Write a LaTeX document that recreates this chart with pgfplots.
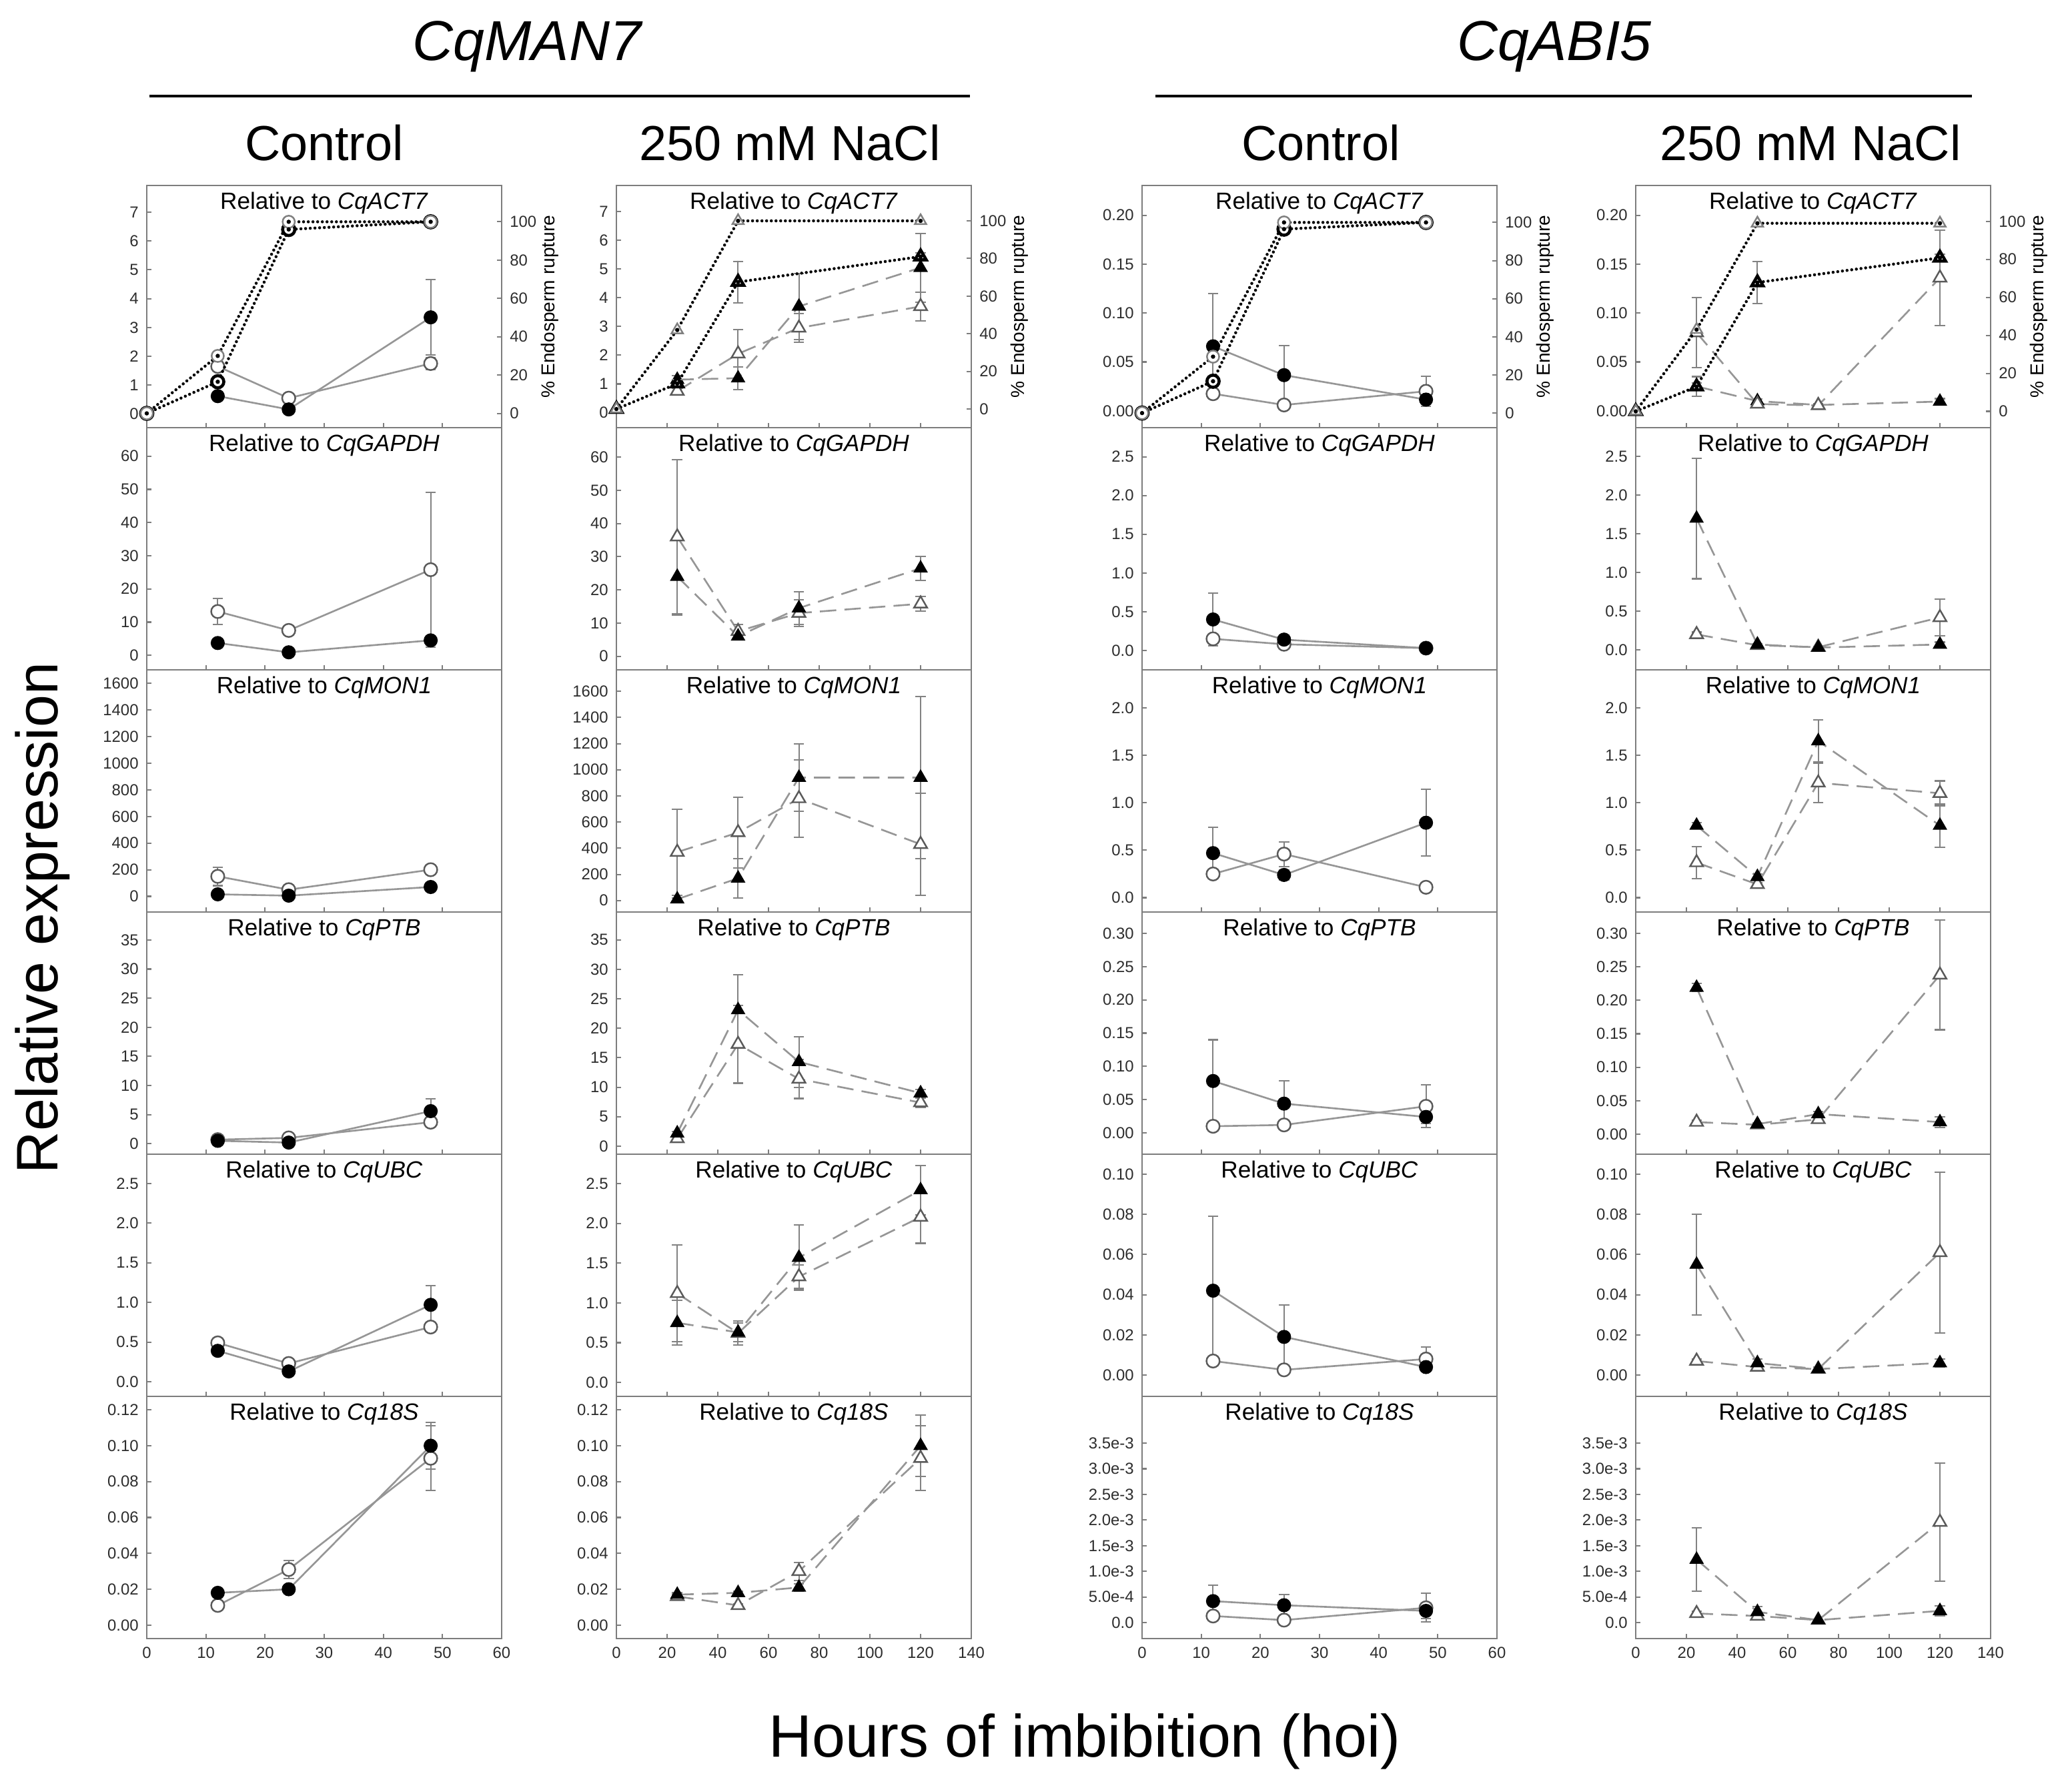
\documentclass[border=0pt]{standalone}
\usepackage{pgfplots}
\pgfplotsset{compat=1.18}
\usepackage{fontspec}
\setmainfont{Liberation Sans}
\definecolor{axgray}{RGB}{125,125,125}
\definecolor{lngray}{RGB}{150,150,150}
\definecolor{errgray}{RGB}{130,130,130}
\definecolor{mkgray}{RGB}{90,90,90}
\definecolor{tkgray}{RGB}{45,45,45}
\tikzset{
 rtitle/.style={font=\fontsize{10}{12}\selectfont, anchor=north, inner sep=0pt},
 rlab/.style={rotate=90, anchor=north, inner sep=0pt, font=\fontsize{8}{10}\selectfont},
}
\pgfplotsset{
 panel/.style={scale only axis, width=5.32cm, height=3.63cm, anchor=south west,
   axis line style={axgray, line width=0.8pt},
   tick style={axgray, line width=0.6pt},
   major tick length=0.07cm, tick align=inside,
   xtick pos=left, ytick pos=left,
   ticklabel style={font=\fontsize{6.8}{8}\selectfont, text=tkgray},
   /pgf/number format/assume math mode=true,
   /pgf/number format/1000 sep={},
   scaled y ticks=false, scaled x ticks=false, clip=false},
 c60/.style={xmin=0, xmax=60, xtick={0,10,20,30,40,50,60}},
 c140/.style={xmin=0, xmax=140, xtick={0,20,40,60,80,100,120,140}},
 nox/.style={xticklabels={,,,,,,,,,}},
 p1/.style={yticklabel style={/pgf/number format/fixed, /pgf/number format/fixed zerofill, /pgf/number format/precision=1}},
 p2/.style={yticklabel style={/pgf/number format/fixed, /pgf/number format/fixed zerofill, /pgf/number format/precision=2}},
 errs/.style={error bars/y dir=both, error bars/y explicit,
   error bars/error bar style={errgray, line width=0.6pt, solid},
   error bars/error mark options={rotate=90, errgray, mark size=2.2pt, line width=0.6pt, solid}},
 ctlF/.style={lngray, line width=0.75pt, mark=*, mark size=2.8pt, mark options={solid, fill=black, draw=black, line width=0.4pt}, errs},
 ctlO/.style={lngray, line width=0.75pt, mark=*, mark size=2.8pt, mark options={solid, fill=white, draw=mkgray, line width=0.7pt}, errs},
 salF/.style={lngray, line width=0.75pt, dash pattern=on 7pt off 3.5pt, mark=triangle*, mark size=3.2pt, mark options={solid, fill=black, draw=black, line width=0.4pt}, errs},
 salO/.style={lngray, line width=0.75pt, dash pattern=on 7pt off 3.5pt, mark=triangle*, mark size=3.2pt, mark options={solid, fill=white, draw=mkgray, line width=0.7pt}, errs},
 endoline/.style={black, line width=1.3pt, line cap=round, dash pattern=on 0pt off 2pt},
 endoAc/.style={endoline, mark=*, mark size=2.6pt, mark options={solid, fill=white, draw=black!50, line width=0.7pt}},
 endoBc/.style={endoline, mark=*, mark size=2.6pt, mark options={solid, fill=white, draw=black, line width=1.3pt}},
 endoAt/.style={endoline, mark=triangle*, mark size=2.8pt, mark options={solid, fill=white, draw=black!50, line width=0.7pt}},
 endoBt/.style={endoline, mark=triangle*, mark size=2.8pt, mark options={solid, fill=white, draw=black, line width=1.3pt}, errs},
 dots/.style={only marks, mark=*, mark size=0.7pt, black},
}
\begin{document}
\begin{tikzpicture}
\useasboundingbox (0,0) rectangle (31.06,-26.68);
% headers
\node[font=\fontsize{24}{28}\selectfont\itshape] at (7.90,-0.70) {CqMAN7};
\node[font=\fontsize{24}{28}\selectfont\itshape] at (23.30,-0.70) {CqABI5};
\draw[line width=1.1pt] (2.24,-1.44) -- (14.54,-1.44);
\draw[line width=1.1pt] (17.32,-1.44) -- (29.56,-1.44);
\node[font=\fontsize{21}{25}\selectfont] at (4.86,-2.14) {Control};
\node[font=\fontsize{21}{25}\selectfont] at (11.84,-2.14) {250 mM NaCl};
\node[font=\fontsize{21}{25}\selectfont] at (19.80,-2.14) {Control};
\node[font=\fontsize{21}{25}\selectfont] at (27.14,-2.14) {250 mM NaCl};
\node[font=\fontsize{25}{30}\selectfont, rotate=90] at (0.64,-13.76) {Relative expression};
\node[font=\fontsize{25.5}{30}\selectfont] at (16.26,-26.10) {Hours of imbibition (hoi)};

% ================= COLUMN 1 (Control, CqMAN7) =================
\begin{axis}[panel,c60,nox,at={(2.20cm,-6.41cm)},ymin=-0.472,ymax=7.92,ytick={0,1,2,3,4,5,6,7}]
\addplot[ctlO] coordinates {(12,1.65) +- (0,0.12) (24,0.55) +- (0,0.05) (48,1.75) +- (0,0.2)};
\addplot[ctlF] coordinates {(12,0.62) +- (0,0.1) (24,0.16) +- (0,0.05) (48,3.35) +- (0,1.3)};
\node[rtitle] at (rel axis cs:0.5,0.975) {Relative to \textit{CqACT7}};
\end{axis}
\begin{axis}[panel,c60,xtick=\empty,at={(2.20cm,-6.41cm)},ymin=-7.46,ymax=118.96,ytick={0,20,40,60,80,100},ytick pos=right,yticklabel pos=right]
\addplot[endoBc] coordinates {(0,0) (12,16.5) (24,96) (48,100)};
\addplot[endoAc] coordinates {(0,0) (12,30) (24,100) (48,100)};
\addplot[dots] coordinates {(0,0) (12,16.5) (24,96) (48,100) (12,30) (24,100)};
\node[rlab] at (rel axis cs:1.109,0.5) {\% Endosperm rupture};
\end{axis}

\begin{axis}[panel,c60,nox,at={(2.20cm,-10.04cm)},ymin=-4.38,ymax=68.6,ytick={0,10,20,30,40,50,60}]
\addplot[ctlO] coordinates {(12,13.2) +- (0,3.9) (24,7.5) +- (0,0.8) (48,25.8) +- (0,23.3)};
\addplot[ctlF] coordinates {(12,3.7) +- (0,0.5) (24,0.9) +- (0,0.3) (48,4.5) +- (0,0.8)};
\node[rtitle] at (rel axis cs:0.5,0.975) {Relative to \textit{CqGAPDH}};
\end{axis}

\begin{axis}[panel,c60,nox,at={(2.20cm,-13.67cm)},ymin=-118,ymax=1702,ytick={0,200,400,600,800,1000,1200,1400,1600}]
\addplot[ctlO] coordinates {(12,150) +- (0,70) (24,50) +- (0,10) (48,200) +- (0,20)};
\addplot[ctlF] coordinates {(12,15) +- (0,10) (24,5) +- (0,5) (48,70) +- (0,15)};
\node[rtitle] at (rel axis cs:0.5,0.975) {Relative to \textit{CqMON1}};
\end{axis}

\begin{axis}[panel,c60,nox,at={(2.20cm,-17.30cm)},ymin=-1.8,ymax=39.8,ytick={0,5,10,15,20,25,30,35}]
\addplot[ctlO] coordinates {(12,0.7) +- (0,0.2) (24,1.0) +- (0,0.2) (48,3.7) +- (0,0.5)};
\addplot[ctlF] coordinates {(12,0.5) +- (0,0.1) (24,0.2) +- (0,0.1) (48,5.6) +- (0,2.1)};
\node[rtitle] at (rel axis cs:0.5,0.975) {Relative to \textit{CqPTB}};
\end{axis}

\begin{axis}[panel,c60,nox,p1,at={(2.20cm,-20.93cm)},ymin=-0.185,ymax=2.87,ytick={0,0.5,1,1.5,2,2.5}]
\addplot[ctlO] coordinates {(12,0.49) +- (0,0.03) (24,0.23) +- (0,0.02) (48,0.69) +- (0,0.05)};
\addplot[ctlF] coordinates {(12,0.39) +- (0,0.03) (24,0.13) +- (0,0.02) (48,0.97) +- (0,0.24)};
\node[rtitle] at (rel axis cs:0.5,0.975) {Relative to \textit{CqUBC}};
\end{axis}

\begin{axis}[panel,c60,p2,at={(2.20cm,-24.56cm)},ymin=-0.0075,ymax=0.1275,ytick={0,0.02,0.04,0.06,0.08,0.1,0.12}]
\addplot[ctlO] coordinates {(12,0.011) +- (0,0.001) (24,0.031) +- (0,0.005) (48,0.093) +- (0,0.018)};
\addplot[ctlF] coordinates {(12,0.018) +- (0,0.001) (24,0.020) +- (0,0.002) (48,0.100) +- (0,0.013)};
\node[rtitle] at (rel axis cs:0.5,0.975) {Relative to \textit{Cq18S}};
\end{axis}

% ================= COLUMN 2 (NaCl, CqMAN7) =================
\begin{axis}[panel,c140,nox,at={(9.24cm,-6.41cm)},ymin=-0.523,ymax=7.914,ytick={0,1,2,3,4,5,6,7}]
\addplot[salO] coordinates {(24,0.75) +- (0,0.1) (48,2.05) +- (0,0.85) (72,2.95) +- (0,0.5) (120,3.7) +- (0,0.5)};
\addplot[salF] coordinates {(24,1.15) +- (0,0.15) (48,1.2) +- (0,0.4) (72,3.7) +- (0,1.15) (120,5.05) +- (0,1.2)};
\node[rtitle] at (rel axis cs:0.5,0.975) {Relative to \textit{CqACT7}};
\end{axis}
\begin{axis}[panel,c140,xtick=\empty,at={(9.24cm,-6.41cm)},ymin=-9.9,ymax=118.8,ytick={0,20,40,60,80,100},ytick pos=right,yticklabel pos=right]
\addplot[endoBt] coordinates {(0,0) +- (0,0) (24,13.5) +- (0,2) (48,67.5) +- (0,11) (120,81) +- (0,2)};
\addplot[endoAt] coordinates {(0,0) (24,42) (48,100) (120,100)};
\addplot[dots] coordinates {(0,0) (24,13.5) (48,67.5) (120,81) (24,42) (48,100) (120,100)};
\node[rlab] at (rel axis cs:1.109,0.5) {\% Endosperm rupture};
\end{axis}

\begin{axis}[panel,c140,nox,at={(9.24cm,-10.04cm)},ymin=-4.11,ymax=68.9,ytick={0,10,20,30,40,50,60}]
\addplot[salO] coordinates {(24,36) +- (0,23.2) (48,7.5) +- (0,2) (72,13) +- (0,4) (120,15.8) +- (0,2.2)};
\addplot[salF] coordinates {(24,24) +- (0,11.6) (48,6) +- (0,0.6) (72,14.5) +- (0,5) (120,26.5) +- (0,3.6)};
\node[rtitle] at (rel axis cs:0.5,0.975) {Relative to \textit{CqGAPDH}};
\end{axis}

\begin{axis}[panel,c140,nox,at={(9.24cm,-13.67cm)},ymin=-88,ymax=1764,ytick={0,200,400,600,800,1000,1200,1400,1600}]
\addplot[salO] coordinates {(24,370) +- (0,330) (48,520) +- (0,270) (72,780) +- (0,295) (120,430) +- (0,390)};
\addplot[salF] coordinates {(24,10) +- (0,10) (48,170) +- (0,150) (72,940) +- (0,258) (120,940) +- (0,620)};
\node[rtitle] at (rel axis cs:0.5,0.975) {Relative to \textit{CqMON1}};
\end{axis}

\begin{axis}[panel,c140,nox,at={(9.24cm,-17.30cm)},ymin=-1.35,ymax=39.7,ytick={0,5,10,15,20,25,30,35}]
\addplot[salO] coordinates {(24,1.3) +- (0,0.3) (48,17.3) +- (0,6.6) (72,11.4) +- (0,3.3) (120,7.4) +- (0,0.8)};
\addplot[salF] coordinates {(24,2.2) +- (0,0.3) (48,23.1) +- (0,6.0) (72,14.3) +- (0,4.3) (120,9.0) +- (0,0.6)};
\node[rtitle] at (rel axis cs:0.5,0.975) {Relative to \textit{CqPTB}};
\end{axis}

\begin{axis}[panel,c140,nox,p1,at={(9.24cm,-20.93cm)},ymin=-0.175,ymax=2.87,ytick={0,0.5,1,1.5,2,2.5}]
\addplot[salO] coordinates {(24,1.12) +- (0,0.61) (48,0.62) +- (0,0.15) (72,1.33) +- (0,0.15) (120,2.08) +- (0,0.33)};
\addplot[salF] coordinates {(24,0.75) +- (0,0.28) (48,0.63) +- (0,0.12) (72,1.57) +- (0,0.41) (120,2.42) +- (0,0.31)};
\node[rtitle] at (rel axis cs:0.5,0.975) {Relative to \textit{CqUBC}};
\end{axis}

\begin{axis}[panel,c140,p2,at={(9.24cm,-24.56cm)},ymin=-0.0075,ymax=0.1275,ytick={0,0.02,0.04,0.06,0.08,0.1,0.12}]
\addplot[salO] coordinates {(24,0.016) +- (0,0.001) (48,0.011) +- (0,0.001) (72,0.030) +- (0,0.005) (120,0.093) +- (0,0.018)};
\addplot[salF] coordinates {(24,0.017) +- (0,0.001) (48,0.018) +- (0,0.001) (72,0.021) +- (0,0.002) (120,0.100) +- (0,0.017)};
\node[rtitle] at (rel axis cs:0.5,0.975) {Relative to \textit{Cq18S}};
\end{axis}

% ================= COLUMN 3 (Control, CqABI5) =================
\begin{axis}[panel,c60,nox,p2,at={(17.12cm,-6.41cm)},ymin=-0.0172,ymax=0.2305,ytick={0,0.05,0.1,0.15,0.2}]
\addplot[ctlO] coordinates {(12,0.0175) +- (0,0.003) (24,0.006) +- (0,0.002) (48,0.020) +- (0,0.0155)};
\addplot[ctlF] coordinates {(12,0.066) +- (0,0.054) (24,0.0365) +- (0,0.030) (48,0.0115) +- (0,0.003)};
\node[rtitle] at (rel axis cs:0.5,0.975) {Relative to \textit{CqACT7}};
\end{axis}
\begin{axis}[panel,c60,xtick=\empty,at={(17.12cm,-6.41cm)},ymin=-7.65,ymax=119.4,ytick={0,20,40,60,80,100},ytick pos=right,yticklabel pos=right]
\addplot[endoBc] coordinates {(0,0) (12,16.7) (24,96.5) (48,100)};
\addplot[endoAc] coordinates {(0,0) (12,29.6) (24,100) (48,100)};
\addplot[dots] coordinates {(0,0) (12,16.7) (24,96.5) (48,100) (12,29.6) (24,100)};
\node[rlab] at (rel axis cs:1.109,0.5) {\% Endosperm rupture};
\end{axis}

\begin{axis}[panel,c60,nox,p1,at={(17.12cm,-10.04cm)},ymin=-0.25,ymax=2.875,ytick={0,0.5,1,1.5,2,2.5}]
\addplot[ctlO] coordinates {(12,0.15) +- (0,0.04) (24,0.08) +- (0,0.02) (48,0.03) +- (0,0.01)};
\addplot[ctlF] coordinates {(12,0.40) +- (0,0.34) (24,0.14) +- (0,0.06) (48,0.03) +- (0,0.01)};
\node[rtitle] at (rel axis cs:0.5,0.975) {Relative to \textit{CqGAPDH}};
\end{axis}

\begin{axis}[panel,c60,nox,p1,at={(17.12cm,-13.67cm)},ymin=-0.151,ymax=2.402,ytick={0,0.5,1,1.5,2}]
\addplot[ctlO] coordinates {(12,0.25) +- (0,0.03) (24,0.46) +- (0,0.13) (48,0.11) +- (0,0.02)};
\addplot[ctlF] coordinates {(12,0.47) +- (0,0.27) (24,0.24) +- (0,0.05) (48,0.79) +- (0,0.35)};
\node[rtitle] at (rel axis cs:0.5,0.975) {Relative to \textit{CqMON1}};
\end{axis}

\begin{axis}[panel,c60,nox,p2,at={(17.12cm,-17.30cm)},ymin=-0.032,ymax=0.332,ytick={0,0.05,0.1,0.15,0.2,0.25,0.3}]
\addplot[ctlO] coordinates {(12,0.010) +- (0,0.002) (24,0.012) +- (0,0.002) (48,0.040) +- (0,0.032)};
\addplot[ctlF] coordinates {(12,0.078) +- (0,0.062) (24,0.044) +- (0,0.034) (48,0.024) +- (0,0.010)};
\node[rtitle] at (rel axis cs:0.5,0.975) {Relative to \textit{CqPTB}};
\end{axis}

\begin{axis}[panel,c60,nox,p2,at={(17.12cm,-20.93cm)},ymin=-0.0106,ymax=0.1099,ytick={0,0.02,0.04,0.06,0.08,0.1}]
\addplot[ctlO] coordinates {(12,0.007) +- (0,0.001) (24,0.0026) +- (0,0.001) (48,0.008) +- (0,0.006)};
\addplot[ctlF] coordinates {(12,0.042) +- (0,0.037) (24,0.019) +- (0,0.016) (48,0.004) +- (0,0.002)};
\node[rtitle] at (rel axis cs:0.5,0.975) {Relative to \textit{CqUBC}};
\end{axis}

\begin{axis}[panel,c60,at={(17.12cm,-24.56cm)},ymin=-0.00031,ymax=0.00441,ytick={0,0.0005,0.001,0.0015,0.002,0.0025,0.003,0.0035},yticklabels={0.0,5.0e-4,1.0e-3,1.5e-3,2.0e-3,2.5e-3,3.0e-3,3.5e-3}]
\addplot[ctlO] coordinates {(12,0.00013) +- (0,0.00003) (24,0.00005) +- (0,0.00002) (48,0.00029) +- (0,0.00028)};
\addplot[ctlF] coordinates {(12,0.00042) +- (0,0.00031) (24,0.00034) +- (0,0.00021) (48,0.00023) +- (0,0.00015)};
\node[rtitle] at (rel axis cs:0.5,0.975) {Relative to \textit{Cq18S}};
\end{axis}

% ================= COLUMN 4 (NaCl, CqABI5) =================
\begin{axis}[panel,c140,nox,p2,at={(24.52cm,-6.41cm)},ymin=-0.0172,ymax=0.2305,ytick={0,0.05,0.1,0.15,0.2}]
\addplot[salF] coordinates {(24,0.025) +- (0,0.010) (48,0.010) +- (0,0.002) (72,0.006) +- (0,0.001) (120,0.0095) +- (0,0.003)};
\addplot[salO] coordinates {(24,0.080) +- (0,0.036) (48,0.007) +- (0,0.002) (72,0.0055) +- (0,0.001) (120,0.136) +- (0,0.049)};
\node[rtitle] at (rel axis cs:0.5,0.975) {Relative to \textit{CqACT7}};
\end{axis}
\begin{axis}[panel,c140,xtick=\empty,at={(24.52cm,-6.41cm)},ymin=-8.6,ymax=118.9,ytick={0,20,40,60,80,100},ytick pos=right,yticklabel pos=right]
\addplot[endoBt] coordinates {(0,0) +- (0,0) (24,13) +- (0,2) (48,67.8) +- (0,11) (120,80.8) +- (0,2)};
\addplot[endoAt] coordinates {(0,0) (24,43) (48,99) (120,99)};
\addplot[dots] coordinates {(0,0) (24,13) (48,67.8) (120,80.8) (24,43) (48,99) (120,99)};
\node[rlab] at (rel axis cs:1.109,0.5) {\% Endosperm rupture};
\end{axis}

\begin{axis}[panel,c140,nox,p1,at={(24.52cm,-10.04cm)},ymin=-0.258,ymax=2.875,ytick={0,0.5,1,1.5,2,2.5}]
\addplot[salO] coordinates {(24,0.20) +- (0,0.03) (48,0.06) +- (0,0.01) (72,0.035) +- (0,0.01) (120,0.42) +- (0,0.24)};
\addplot[salF] coordinates {(24,1.70) +- (0,0.78) (48,0.07) +- (0,0.01) (72,0.03) +- (0,0.01) (120,0.07) +- (0,0.03)};
\node[rtitle] at (rel axis cs:0.5,0.975) {Relative to \textit{CqGAPDH}};
\end{axis}

\begin{axis}[panel,c140,nox,p1,at={(24.52cm,-13.67cm)},ymin=-0.151,ymax=2.40,ytick={0,0.5,1,1.5,2}]
\addplot[salO] coordinates {(24,0.37) +- (0,0.17) (48,0.14) +- (0,0.02) (72,1.21) +- (0,0.21) (120,1.10) +- (0,0.13)};
\addplot[salF] coordinates {(24,0.76) +- (0,0.03) (48,0.22) +- (0,0.03) (72,1.65) +- (0,0.22) (120,0.76) +- (0,0.23)};
\node[rtitle] at (rel axis cs:0.5,0.975) {Relative to \textit{CqMON1}};
\end{axis}

\begin{axis}[panel,c140,nox,p2,at={(24.52cm,-17.30cm)},ymin=-0.03,ymax=0.332,ytick={0,0.05,0.1,0.15,0.2,0.25,0.3}]
\addplot[salO] coordinates {(24,0.018) +- (0,0.003) (48,0.014) +- (0,0.002) (72,0.022) +- (0,0.002) (120,0.238) +- (0,0.082)};
\addplot[salF] coordinates {(24,0.219) +- (0,0.006) (48,0.015) +- (0,0.002) (72,0.030) +- (0,0.004) (120,0.018) +- (0,0.008)};
\node[rtitle] at (rel axis cs:0.5,0.975) {Relative to \textit{CqPTB}};
\end{axis}

\begin{axis}[panel,c140,nox,p2,at={(24.52cm,-20.93cm)},ymin=-0.0106,ymax=0.1099,ytick={0,0.02,0.04,0.06,0.08,0.1}]
\addplot[salO] coordinates {(24,0.007) +- (0,0.001) (48,0.004) +- (0,0.001) (72,0.003) +- (0,0.001) (120,0.061) +- (0,0.040)};
\addplot[salF] coordinates {(24,0.055) +- (0,0.025) (48,0.006) +- (0,0.002) (72,0.003) +- (0,0.001) (120,0.006) +- (0,0.002)};
\node[rtitle] at (rel axis cs:0.5,0.975) {Relative to \textit{CqUBC}};
\end{axis}

\begin{axis}[panel,c140,at={(24.52cm,-24.56cm)},ymin=-0.00031,ymax=0.00441,ytick={0,0.0005,0.001,0.0015,0.002,0.0025,0.003,0.0035},yticklabels={0.0,5.0e-4,1.0e-3,1.5e-3,2.0e-3,2.5e-3,3.0e-3,3.5e-3}]
\addplot[salO] coordinates {(24,0.00018) +- (0,0.00004) (48,0.00013) +- (0,0.00002) (72,0.00005) +- (0,0.00001) (120,0.00196) +- (0,0.00115)};
\addplot[salF] coordinates {(24,0.00123) +- (0,0.00062) (48,0.00021) +- (0,0.0001) (72,0.00005) +- (0,0.00001) (120,0.00023) +- (0,0.0001)};
\node[rtitle] at (rel axis cs:0.5,0.975) {Relative to \textit{Cq18S}};
\end{axis}
\end{tikzpicture}
\end{document}
